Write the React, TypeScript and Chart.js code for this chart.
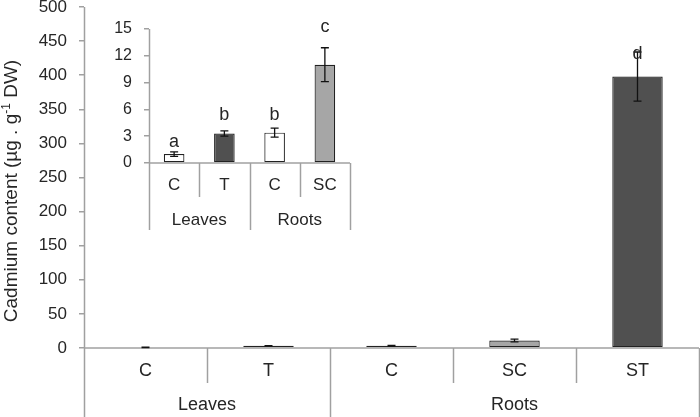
import React, { useEffect, useRef } from "react";
import { Chart, registerables } from "chart.js";

Chart.register(...registerables);

// ---------- data ----------
const mainCategories = ["C", "T", "C", "SC", "ST"];
const mainGroups = ["Leaves", "Roots"];
const mainGroupSizes = [2, 3];
const mainValues = [1.0, 3.3, 3.4, 11.0, 398];
const mainErrors = [0.25, 0.3, 0.5, 1.9, 36];
const mainLetters = ["", "", "", "", "d"];
const mainYMax = 500;
const mainYStep = 50;

const insetCategories = ["C", "T", "C", "SC"];
const insetGroups = ["Leaves", "Roots"];
const insetGroupSizes = [2, 2];
const insetValues = [1.0, 3.3, 3.4, 11.0];
const insetErrors = [0.25, 0.3, 0.5, 1.9];
const insetLetters = ["a", "b", "b", "c"];
const insetYMax = 15;
const insetYStep = 3;

// ---------- styles ----------
const FONT = "'Liberation Sans', Arial, Helvetica, sans-serif";
const TEXT = "#262626";
const AXIS = "#a0a0a0";
const mainColors = ["#ffffff", "#505050", "#ffffff", "#a6a6a6", "#505050"];
const insetColors = ["#ffffff", "#505050", "#ffffff", "#a6a6a6"];

type OverlayCfg = {
  cats: string[];
  groups: string[];
  groupSizes: number[];
  values: number[];
  errors: number[];
  letters: string[];
  letterGaps: number[];
  innerEnd: number;
  groupEnd: number;
  catLabelY: number;
  groupLabelY: number;
  catFont: number;
  letterFont: number;
  drawTitle?: boolean;
};

function makeOverlay(cfg: OverlayCfg) {
  return {
    id: "overlay",
    afterDatasetsDraw(chart: any) {
      const ctx: CanvasRenderingContext2D = chart.ctx;
      const xs = chart.scales.x;
      const ys = chart.scales.y;
      const ca = chart.chartArea;
      const meta = chart.getDatasetMeta(0);
      const n = cfg.cats.length;
      const step = xs.getPixelForValue(1) - xs.getPixelForValue(0);
      const edge = (i: number) => xs.getPixelForValue(0) - step / 2 + i * step;

      // category axis lines
      ctx.save();
      ctx.strokeStyle = AXIS;
      ctx.lineWidth = 1.5;
      ctx.beginPath();
      ctx.moveTo(ca.left, ca.bottom);
      ctx.lineTo(ca.right, ca.bottom);
      ctx.stroke();
      const groupEdges = new Set<number>([0]);
      let acc = 0;
      cfg.groupSizes.forEach((s) => {
        acc += s;
        groupEdges.add(acc);
      });
      for (let i = 0; i <= n; i++) {
        const px = Math.round(edge(i)) + 0.5;
        const isGroup = groupEdges.has(i);
        ctx.beginPath();
        ctx.moveTo(px, i === 0 ? ca.top : ca.bottom);
        ctx.lineTo(px, isGroup ? cfg.groupEnd : cfg.innerEnd);
        ctx.stroke();
      }
      // labels
      ctx.fillStyle = TEXT;
      ctx.textAlign = "center";
      ctx.textBaseline = "middle";
      ctx.font = `${cfg.catFont}px ${FONT}`;
      cfg.cats.forEach((c, i) => {
        ctx.fillText(c, xs.getPixelForValue(i), cfg.catLabelY);
      });
      acc = 0;
      cfg.groups.forEach((g, gi) => {
        const s = cfg.groupSizes[gi];
        const mid = (edge(acc) + edge(acc + s)) / 2;
        ctx.fillText(g, mid, cfg.groupLabelY);
        acc += s;
      });

      // error bars
      ctx.strokeStyle = "#111";
      ctx.lineWidth = 1.3;
      cfg.values.forEach((v, i) => {
        const e = cfg.errors[i];
        const px = meta.data[i].x;
        const top = ys.getPixelForValue(v + e);
        const bot = ys.getPixelForValue(Math.max(0, v - e));
        ctx.beginPath();
        ctx.moveTo(px, top);
        ctx.lineTo(px, bot);
        ctx.moveTo(px - 4, top);
        ctx.lineTo(px + 4, top);
        ctx.moveTo(px - 4, bot);
        ctx.lineTo(px + 4, bot);
        ctx.stroke();
      });

      // letters
      ctx.textBaseline = "alphabetic";
      ctx.font = `${cfg.letterFont}px ${FONT}`;
      cfg.letters.forEach((l, i) => {
        if (!l) return;
        const px = meta.data[i].x;
        const top = ys.getPixelForValue(cfg.values[i] + cfg.errors[i]);
        ctx.fillText(l, px, top - cfg.letterGaps[i]);
      });

      // y axis title
      if (cfg.drawTitle) {
        ctx.save();
        ctx.translate(17, 191);
        ctx.rotate(-Math.PI / 2);
        const parts = [
          { t: "Cadmium content (µg . g", f: 19, dy: 0 },
          { t: "-1", f: 12, dy: -7 },
          { t: " DW)", f: 19, dy: 0 },
        ];
        let total = 0;
        parts.forEach((p) => {
          ctx.font = `${p.f}px ${FONT}`;
          total += ctx.measureText(p.t).width;
        });
        let x = -total / 2;
        ctx.textAlign = "left";
        parts.forEach((p) => {
          ctx.font = `${p.f}px ${FONT}`;
          ctx.fillText(p.t, x, p.dy);
          x += ctx.measureText(p.t).width;
        });
        ctx.restore();
      }
      ctx.restore();
    },
  };
}

function buildConfig(
  cats: string[],
  values: number[],
  colors: string[],
  yMax: number,
  yStep: number,
  axisWidth: number,
  padding: any,
  tickFont: number,
  overlay: any
): any {
  return {
    type: "bar",
    data: {
      labels: cats,
      datasets: [
        {
          data: values,
          backgroundColor: colors,
          borderColor: "#222",
          borderWidth: 1.2,
          borderSkipped: false,
          barPercentage: 0.41,
          categoryPercentage: 1.0,
        },
      ],
    },
    options: {
      responsive: false,
      animation: false,
      devicePixelRatio: 1,
      layout: { padding },
      plugins: { legend: { display: false }, tooltip: { enabled: false } },
      scales: {
        x: { display: false, offset: true },
        y: {
          min: 0,
          max: yMax,
          ticks: {
            stepSize: yStep,
            padding: 12,
            color: TEXT,
            font: { family: FONT, size: tickFont },
          },
          grid: {
            drawOnChartArea: false,
            drawTicks: true,
            tickLength: 5,
            color: AXIS,
            lineWidth: 1.5,
          },
          border: { display: false },
          afterFit: (s: any) => {
            s.width = axisWidth;
            s.paddingTop = 0;
            s.paddingBottom = 0;
          },
        },
      },
    },
    plugins: [overlay],
  };
}

export default function App() {
  const mainRef = useRef<HTMLCanvasElement>(null);
  const insetRef = useRef<HTMLCanvasElement>(null);

  useEffect(() => {
    const mainChart = new Chart(
      mainRef.current as HTMLCanvasElement,
      buildConfig(
        mainCategories,
        mainValues,
        mainColors,
        mainYMax,
        mainYStep,
        84,
        { left: 0, top: 7, right: 1, bottom: 69 },
        17,
        makeOverlay({
          cats: mainCategories,
          groups: mainGroups,
          groupSizes: mainGroupSizes,
          values: mainValues,
          errors: mainErrors,
          letters: mainLetters,
          letterGaps: [0, 0, 0, 0, -7],
          innerEnd: 383,
          groupEnd: 417,
          catLabelY: 371,
          groupLabelY: 405,
          catFont: 18,
          letterFont: 18,
          drawTitle: true,
        })
      )
    );
    const insetChart = new Chart(
      insetRef.current as HTMLCanvasElement,
      buildConfig(
        insetCategories,
        insetValues,
        insetColors,
        insetYMax,
        insetYStep,
        49,
        { left: 0, top: 29, right: 10, bottom: 77 },
        16,
        makeOverlay({
          cats: insetCategories,
          groups: insetGroups,
          groupSizes: insetGroupSizes,
          values: insetValues,
          errors: insetErrors,
          letters: insetLetters,
          letterGaps: [5, 11, 8, 16],
          innerEnd: 197,
          groupEnd: 230,
          catLabelY: 185,
          groupLabelY: 220,
          catFont: 17,
          letterFont: 18,
        })
      )
    );
    return () => {
      mainChart.destroy();
      insetChart.destroy();
    };
  }, []);

  return (
    <div
      style={{
        position: "fixed",
        left: 0,
        top: 0,
        width: 700,
        height: 417,
        background: "#fff",
      }}
    >
      <canvas
        ref={mainRef}
        width={700}
        height={417}
        style={{ position: "absolute", left: 0, top: 0, width: 700, height: 417 }}
      />
      <canvas
        ref={insetRef}
        width={260}
        height={240}
        style={{ position: "absolute", left: 100, top: 0, width: 260, height: 240 }}
      />
    </div>
  );
}
